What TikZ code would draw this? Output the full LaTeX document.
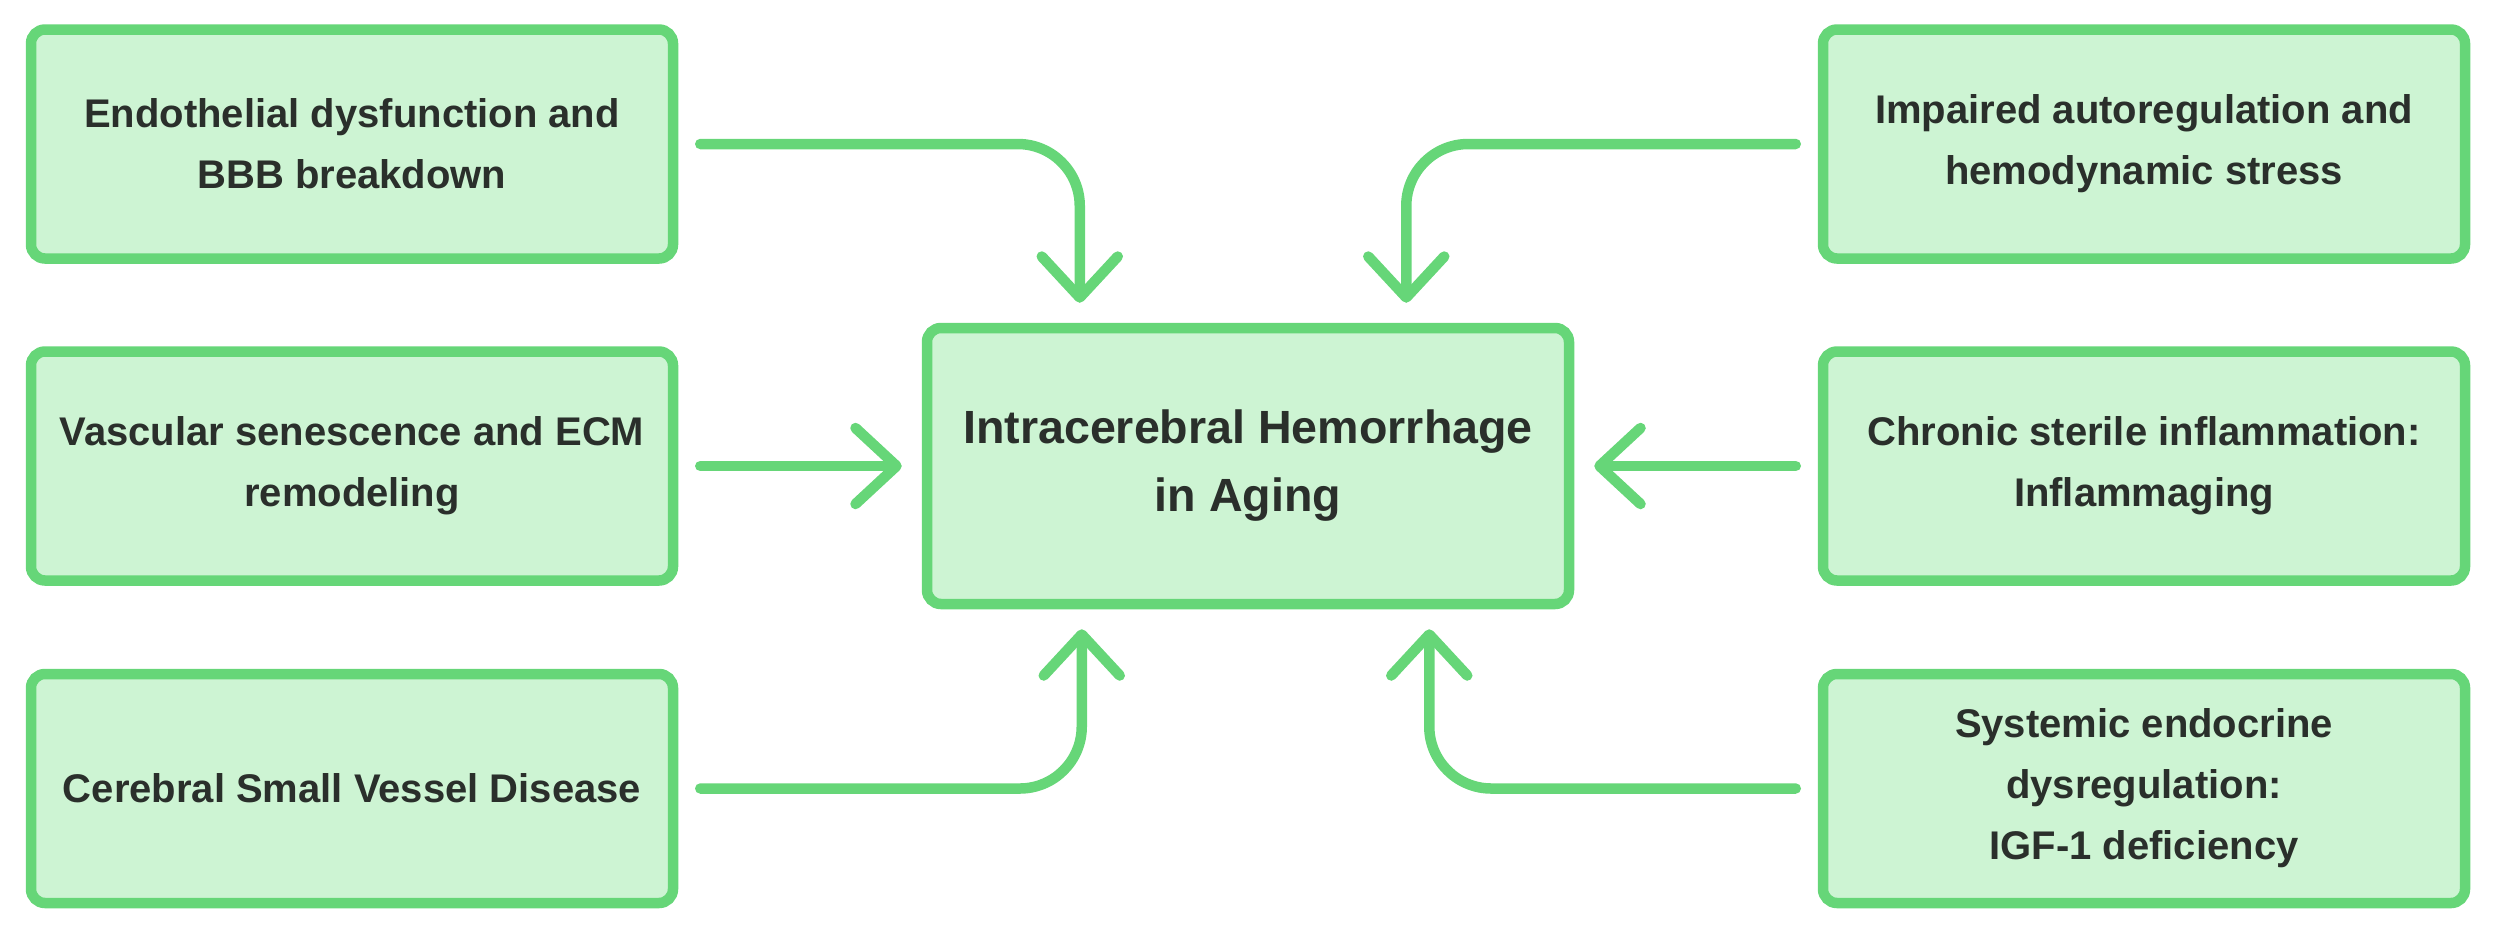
\documentclass[tikz,border=0pt]{standalone}
\usepackage{fontspec}
\setmainfont{Liberation Sans}
\usetikzlibrary{arrows.meta,calc}
\definecolor{bordergreen}{HTML}{66D678}
\definecolor{fillgreen}{HTML}{CDF4D3}
\definecolor{textc}{HTML}{2A2F2B}
\tikzset{
  factor/.style={draw=bordergreen, fill=fillgreen, line width=5.25pt, rounded corners=7pt,
    minimum width=321pt, minimum height=114.5pt, inner sep=0pt, align=center, text=textc,
    font=\bfseries\fontsize{20}{30.5}\selectfont},
  mainbox/.style={factor, minimum height=138pt, font=\bfseries\fontsize{23.3}{34}\selectfont},
  conn/.style={draw=bordergreen, line width=5.25pt, line cap=round, line join=round,
    rounded corners=31pt, -{Straight Barb[length=20.5pt, width=38pt, round]}}
}
\begin{document}
\begin{tikzpicture}[x=0.5pt, y=-0.5pt]
\useasboundingbox (0,0) rectangle (2494,934);
\node[mainbox] (c) at (1248,466) {Intracerebral Hemorrhage\\in Aging};
\node[factor] (tl) at (352,144) {Endothelial dysfunction and\\BBB breakdown};
\node[factor] (ml) at (352,466) {Vascular senescence and ECM\\remodeling};
\node[factor] (bl) at (352,788.5) {Cerebral Small Vessel Disease};
\node[factor] (tr) at (2144,144) {Impaired autoregulation and\\hemodynamic stress};
\node[factor] (mr) at (2144,466) {Chronic sterile inflammation:\\Inflammaging};
\node[factor] (br) at (2144,788.5) {Systemic endocrine\\dysregulation:\\IGF-1 deficiency};
\draw[conn] ([xshift=11pt]tl.east) -| ($(c.north west)+(158,-20)$);
\draw[conn] ([xshift=-11pt]tr.west) -| ($(c.north east)+(-168,-20)$);
\draw[conn] ([xshift=11pt]ml.east) -- ([xshift=-10pt]c.west);
\draw[conn] ([xshift=-11pt]mr.west) -- ([xshift=10pt]c.east);
\draw[conn] ([xshift=11pt]bl.east) -| ($(c.south west)+(160,20)$);
\draw[conn] ([xshift=-11pt]br.west) -| ($(c.south east)+(-145,20)$);
\end{tikzpicture}
\end{document}
